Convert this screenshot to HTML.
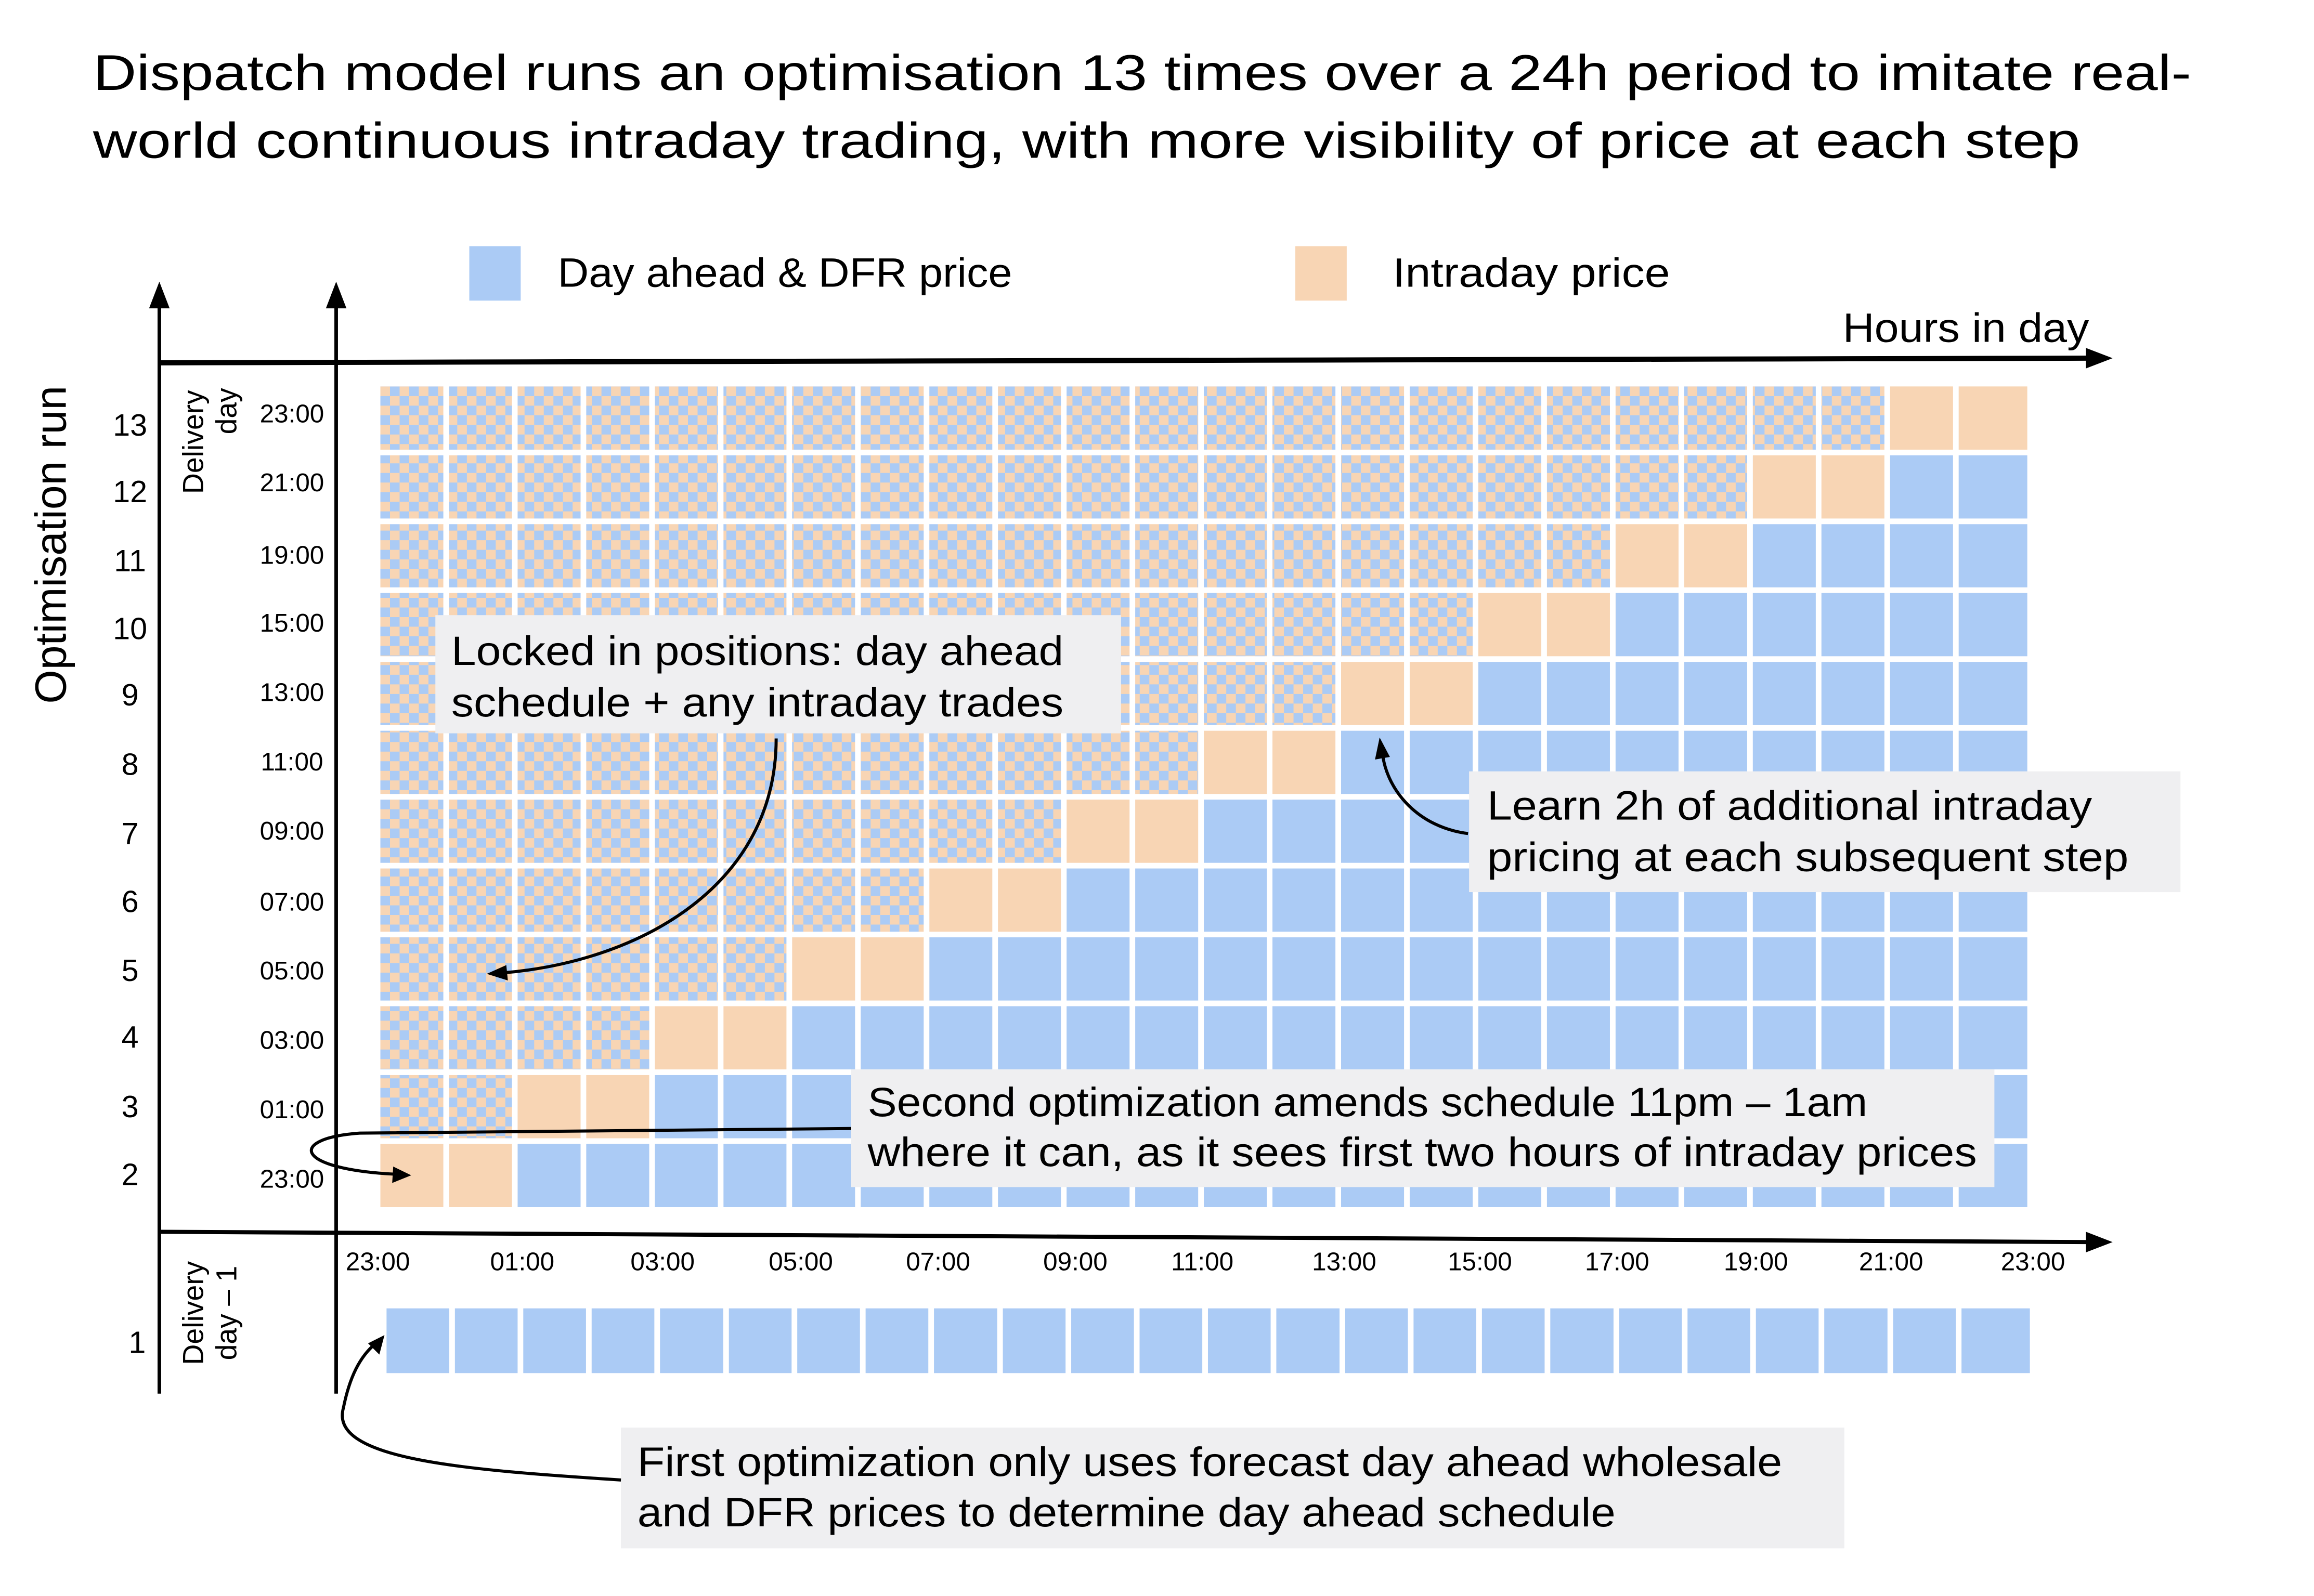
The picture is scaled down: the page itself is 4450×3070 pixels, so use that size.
<!DOCTYPE html>
<html><head><meta charset="utf-8"><style>html,body{margin:0;padding:0;background:#fff}svg{display:block}</style></head>
<body>
<svg xmlns="http://www.w3.org/2000/svg" width="4450" height="3070" viewBox="0 0 4450 3070" font-family="Liberation Sans, sans-serif">
<defs>
<pattern id="ck" patternUnits="userSpaceOnUse" x="740" y="752" width="37.4" height="37.4">
<rect width="37.4" height="37.4" fill="#f8d5b4"/><rect x="18.7" width="18.7" height="18.7" fill="#abcbf5"/><rect y="18.7" width="18.7" height="18.7" fill="#abcbf5"/>
</pattern>
</defs>
<rect width="4450" height="3070" fill="#fff"/>
<g transform="scale(0.9885)">
<text x="181" y="175" font-size="98" textLength="4082" lengthAdjust="spacingAndGlyphs">Dispatch model runs an optimisation 13 times over a 24h period to imitate real-</text>
<text x="181" y="307" font-size="98" textLength="3866" lengthAdjust="spacingAndGlyphs">world continuous intraday trading, with more visibility of price at each step</text>
<rect x="913" y="479" width="100" height="106" fill="#abcbf5"/>
<text x="1085" y="558" font-size="80" textLength="884" lengthAdjust="spacingAndGlyphs">Day ahead &amp; DFR price</text>
<rect x="2520" y="479" width="100" height="106" fill="#f8d5b4"/>
<text x="2709" y="558" font-size="80" textLength="540" lengthAdjust="spacingAndGlyphs">Intraday price</text>
<text x="3585" y="665" font-size="80" textLength="479" lengthAdjust="spacingAndGlyphs">Hours in day</text>
<g>
<rect x="740" y="752" width="2937" height="123" fill="url(#ck)"/><rect x="3677" y="752" width="267" height="123" fill="#f8d5b4"/>
<rect x="740" y="886" width="2670" height="123" fill="url(#ck)"/><rect x="3410" y="886" width="267" height="123" fill="#f8d5b4"/><rect x="3677" y="886" width="267" height="123" fill="#abcbf5"/>
<rect x="740" y="1020" width="2403" height="123" fill="url(#ck)"/><rect x="3143" y="1020" width="267" height="123" fill="#f8d5b4"/><rect x="3410" y="1020" width="534" height="123" fill="#abcbf5"/>
<rect x="740" y="1154" width="2136" height="123" fill="url(#ck)"/><rect x="2876" y="1154" width="267" height="123" fill="#f8d5b4"/><rect x="3143" y="1154" width="801" height="123" fill="#abcbf5"/>
<rect x="740" y="1288" width="1869" height="123" fill="url(#ck)"/><rect x="2609" y="1288" width="267" height="123" fill="#f8d5b4"/><rect x="2876" y="1288" width="1068" height="123" fill="#abcbf5"/>
<rect x="740" y="1422" width="1602" height="123" fill="url(#ck)"/><rect x="2342" y="1422" width="267" height="123" fill="#f8d5b4"/><rect x="2609" y="1422" width="1335" height="123" fill="#abcbf5"/>
<rect x="740" y="1556" width="1335" height="123" fill="url(#ck)"/><rect x="2075" y="1556" width="267" height="123" fill="#f8d5b4"/><rect x="2342" y="1556" width="1602" height="123" fill="#abcbf5"/>
<rect x="740" y="1690" width="1068" height="123" fill="url(#ck)"/><rect x="1808" y="1690" width="267" height="123" fill="#f8d5b4"/><rect x="2075" y="1690" width="1869" height="123" fill="#abcbf5"/>
<rect x="740" y="1824" width="801" height="123" fill="url(#ck)"/><rect x="1541" y="1824" width="267" height="123" fill="#f8d5b4"/><rect x="1808" y="1824" width="2136" height="123" fill="#abcbf5"/>
<rect x="740" y="1958" width="534" height="123" fill="url(#ck)"/><rect x="1274" y="1958" width="267" height="123" fill="#f8d5b4"/><rect x="1541" y="1958" width="2403" height="123" fill="#abcbf5"/>
<rect x="740" y="2092" width="267" height="123" fill="url(#ck)"/><rect x="1007" y="2092" width="267" height="123" fill="#f8d5b4"/><rect x="1274" y="2092" width="2670" height="123" fill="#abcbf5"/>
<rect x="740" y="2226" width="267" height="123" fill="#f8d5b4"/><rect x="1007" y="2226" width="2937" height="123" fill="#abcbf5"/>
</g>
<rect x="752" y="2546" width="3197" height="126" fill="#abcbf5"/>
<g fill="#fff">
<rect x="862.5" y="740" width="11" height="1620"/><rect x="996" y="740" width="11" height="1620"/><rect x="1129.5" y="740" width="11" height="1620"/><rect x="1263" y="740" width="11" height="1620"/><rect x="1396.5" y="740" width="11" height="1620"/><rect x="1530" y="740" width="11" height="1620"/><rect x="1663.5" y="740" width="11" height="1620"/><rect x="1797" y="740" width="11" height="1620"/><rect x="1930.5" y="740" width="11" height="1620"/><rect x="2064" y="740" width="11" height="1620"/><rect x="2197.5" y="740" width="11" height="1620"/><rect x="2331" y="740" width="11" height="1620"/><rect x="2464.5" y="740" width="11" height="1620"/><rect x="2598" y="740" width="11" height="1620"/><rect x="2731.5" y="740" width="11" height="1620"/><rect x="2865" y="740" width="11" height="1620"/><rect x="2998.5" y="740" width="11" height="1620"/><rect x="3132" y="740" width="11" height="1620"/><rect x="3265.5" y="740" width="11" height="1620"/><rect x="3399" y="740" width="11" height="1620"/><rect x="3532.5" y="740" width="11" height="1620"/><rect x="3666" y="740" width="11" height="1620"/><rect x="3799.5" y="740" width="11" height="1620"/>
</g>
<g fill="#fff">
<rect x="874" y="2540" width="11" height="140"/><rect x="1007" y="2540" width="11" height="140"/><rect x="1140" y="2540" width="11" height="140"/><rect x="1273" y="2540" width="11" height="140"/><rect x="1407" y="2540" width="11" height="140"/><rect x="1540" y="2540" width="11" height="140"/><rect x="1673" y="2540" width="11" height="140"/><rect x="1806" y="2540" width="11" height="140"/><rect x="1940" y="2540" width="11" height="140"/><rect x="2073" y="2540" width="11" height="140"/><rect x="2206" y="2540" width="11" height="140"/><rect x="2339" y="2540" width="11" height="140"/><rect x="2472" y="2540" width="11" height="140"/><rect x="2606" y="2540" width="11" height="140"/><rect x="2739" y="2540" width="11" height="140"/><rect x="2872" y="2540" width="11" height="140"/><rect x="3005" y="2540" width="11" height="140"/><rect x="3139" y="2540" width="11" height="140"/><rect x="3272" y="2540" width="11" height="140"/><rect x="3405" y="2540" width="11" height="140"/><rect x="3538" y="2540" width="11" height="140"/><rect x="3672" y="2540" width="11" height="140"/><rect x="3805" y="2540" width="11" height="140"/>
</g>
<g stroke="#000" fill="none">
<line x1="310" y1="2712" x2="310" y2="590" stroke-width="7"/>
<line x1="654" y1="2712" x2="654" y2="590" stroke-width="7"/>
<line x1="310" y1="706" x2="4060" y2="697" stroke-width="10"/>
<line x1="310" y1="2397" x2="4060" y2="2417" stroke-width="8"/>
</g>
<g fill="#000">
<path d="M310,548 L290,600 L330,600 z"/>
<path d="M654,548 L634,600 L674,600 z"/>
<path d="M4110,697 L4058,677 L4058,717 z"/>
<path d="M4110,2417 L4058,2397 L4058,2437 z"/>
</g>
<text transform="translate(128,1060) rotate(-90)" font-size="85" text-anchor="middle">Optimisation run</text>
<text transform="translate(395,860) rotate(-90)" font-size="56" text-anchor="middle">Delivery</text>
<text transform="translate(460,800) rotate(-90)" font-size="56" text-anchor="middle">day</text>
<text transform="translate(395,2555) rotate(-90)" font-size="56" text-anchor="middle">Delivery</text>
<text transform="translate(460,2555) rotate(-90)" font-size="56" text-anchor="middle">day – 1</text>
<g font-size="60" text-anchor="middle">
<text x="253" y="848">13</text><text x="253" y="977">12</text><text x="253" y="1112">11</text><text x="253" y="1244">10</text><text x="253" y="1373">9</text><text x="253" y="1508">8</text><text x="253" y="1643">7</text><text x="253" y="1775">6</text><text x="253" y="1909">5</text><text x="253" y="2039">4</text><text x="253" y="2174">3</text><text x="253" y="2306">2</text><text x="267" y="2633">1</text>
</g>
<g font-size="50" text-anchor="middle">
<text x="568" y="822">23:00</text><text x="568" y="956">21:00</text><text x="568" y="1097">19:00</text><text x="568" y="1229">15:00</text><text x="568" y="1364">13:00</text><text x="568" y="1499">11:00</text><text x="568" y="1634">09:00</text><text x="568" y="1772">07:00</text><text x="568" y="1906">05:00</text><text x="568" y="2041">03:00</text><text x="568" y="2176">01:00</text><text x="568" y="2311">23:00</text>
</g>
<g font-size="50" text-anchor="middle">
<text x="735" y="2472">23:00</text><text x="1016" y="2472">01:00</text><text x="1289" y="2472">03:00</text><text x="1558" y="2472">05:00</text><text x="1825" y="2472">07:00</text><text x="2092" y="2472">09:00</text><text x="2339" y="2472">11:00</text><text x="2615" y="2472">13:00</text><text x="2879" y="2472">15:00</text><text x="3146" y="2472">17:00</text><text x="3416" y="2472">19:00</text><text x="3679" y="2472">21:00</text><text x="3955" y="2472">23:00</text>
</g>
<rect x="847" y="1197" width="1334" height="230" fill="#efeff1"/>
<text x="878" y="1294" font-size="80" textLength="1191" lengthAdjust="spacingAndGlyphs">Locked in positions: day ahead</text>
<text x="878" y="1394" font-size="80" textLength="1191" lengthAdjust="spacingAndGlyphs">schedule + any intraday trades</text>
<rect x="2858" y="1501" width="1384" height="235" fill="#efeff1"/>
<text x="2893" y="1595" font-size="80" textLength="1177" lengthAdjust="spacingAndGlyphs">Learn 2h of additional intraday</text>
<text x="2893" y="1695" font-size="80" textLength="1248" lengthAdjust="spacingAndGlyphs">pricing at each subsequent step</text>
<rect x="1656" y="2081" width="2224" height="229" fill="#efeff1"/>
<text x="1688" y="2172" font-size="80" textLength="1945" lengthAdjust="spacingAndGlyphs">Second optimization amends schedule 11pm – 1am</text>
<text x="1688" y="2269" font-size="80" textLength="2158" lengthAdjust="spacingAndGlyphs">where it can, as it sees first two hours of intraday prices</text>
<rect x="1208" y="2778" width="2380" height="235" fill="#efeff1"/>
<text x="1240" y="2872" font-size="80" textLength="2227" lengthAdjust="spacingAndGlyphs">First optimization only uses forecast day ahead wholesale</text>
<text x="1240" y="2970" font-size="80" textLength="1903" lengthAdjust="spacingAndGlyphs">and DFR prices to determine day ahead schedule</text>
<g stroke="#000" stroke-width="6" fill="none">
<path d="M1510,1437 C1510,1720 1250,1870 980,1893"/>
<path d="M2856,1622 C2760,1610 2700,1540 2690,1470"/>
<path d="M1656,2196 L700,2205 C560,2215 570,2275 770,2285"/>
<path d="M1208,2880 C900,2860 640,2840 668,2740 C680,2680 700,2640 730,2615"/>
</g>
<g fill="#000">
<path d="M947,1895 L985,1878 L988,1908 z"/>
<path d="M2684,1435 L2675,1478 L2704,1473 z"/>
<path d="M800,2287 L765,2270 L763,2302 z"/>
<path d="M748,2598 L738,2636 L716,2614 z"/>
</g>
</g>
</svg>
</body></html>
